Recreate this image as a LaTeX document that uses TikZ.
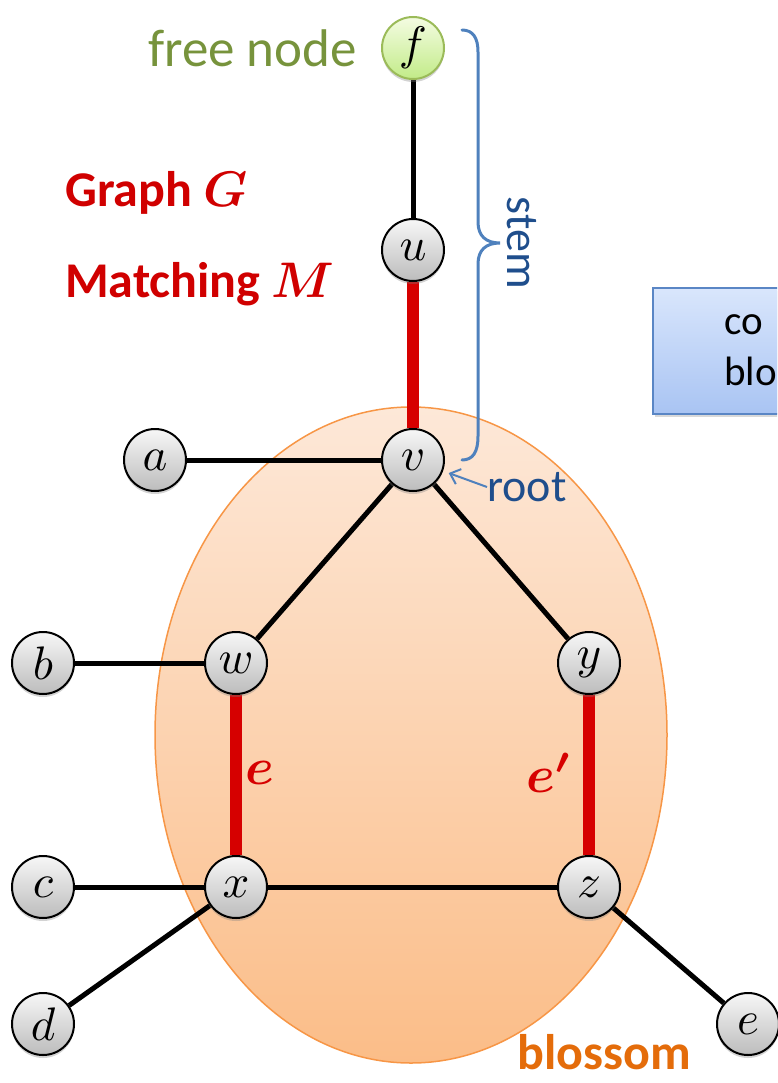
\documentclass[tikz,border=0pt]{standalone}
\usepackage{fontspec}
\setmainfont{Carlito}
\usepackage{graphicx}
\usepackage{bm}
\usetikzlibrary{shadows,arrows.meta}
\newcommand{\gletter}[2]{\scalebox{#1}{\normalsize$#2$}}
\definecolor{nodetop}{HTML}{F7F7F7}
\definecolor{nodebot}{HTML}{BCBCBC}
\definecolor{greentop}{HTML}{F4FCE2}
\definecolor{greenbot}{HTML}{C2EB88}
\definecolor{greenborder}{HTML}{9BBB59}
\definecolor{blosstop}{HTML}{FDE8D8}
\definecolor{blossbot}{HTML}{FBBD88}
\definecolor{blossborder}{HTML}{F79646}
\definecolor{boxtop}{HTML}{D9E6FC}
\definecolor{boxbot}{HTML}{A9C4F3}
\definecolor{boxborder}{HTML}{5A86C5}
\definecolor{matred}{HTML}{D60000}
\definecolor{titlered}{HTML}{D00000}
\definecolor{blossorange}{HTML}{E46C0A}
\definecolor{bluetext}{HTML}{1F4E8C}
\definecolor{braceblue}{HTML}{4F81BD}
\definecolor{freegreen}{HTML}{77933C}
\pgfdeclarelayer{bg}
\pgfdeclarelayer{mid}
\pgfsetlayers{bg,mid,main}
\tikzset{
  gnode/.style={circle, draw=black, line width=2pt, minimum size=62pt, inner sep=0pt,
    top color=nodetop, bottom color=nodebot,
    drop shadow={opacity=0.35, shadow xshift=0pt, shadow yshift=-3pt}},
  fnode/.style={gnode, draw=greenborder, top color=greentop, bottom color=greenbot},
  blk/.style={line width=5pt, black},
  mat/.style={line width=12pt, matred},
  elabel/.style={text=matred},
  title/.style={text=titlered, font=\fontsize{50}{60}\selectfont\bfseries, anchor=base west, inner sep=0pt},
  bluelabel/.style={text=bluetext, font=\fontsize{46}{50}\selectfont, inner sep=0pt},
  bracepath/.style={draw=braceblue, line width=3pt, line cap=round},
}
\begin{document}
\begin{tikzpicture}[x=1pt,y=-1pt]
\useasboundingbox (0,0) rectangle (777,1083);
% blossom
\begin{pgfonlayer}{bg}
\draw[blossborder, line width=1.5pt, top color=blosstop, bottom color=blossbot]
  (411,735) ellipse [x radius=256pt, y radius=328pt];
\end{pgfonlayer}
% nodes
\node[fnode] (f) at (413,48) {\gletter{4.7}{f}};
\node[gnode] (u) at (413,250) {\gletter{4.7}{u}};
\node[gnode] (v) at (413,460) {\gletter{4.7}{v}};
\node[gnode] (a) at (155,460) {\gletter{4.7}{a}};
\node[gnode] (w) at (236,663) {\gletter{4.7}{w}};
\node[gnode] (b) at (43,663) {\gletter{4.7}{b}};
\node[gnode] (y) at (589,663) {\gletter{4.7}{y}};
\node[gnode] (x) at (236,887) {\gletter{4.7}{x}};
\node[gnode] (c) at (43,887) {\gletter{4.7}{c}};
\node[gnode] (z) at (589,887) {\gletter{4.7}{z}};
\node[gnode] (d) at (43,1024) {\gletter{4.7}{d}};
\node[gnode] (e) at (748,1024) {\gletter{4.7}{e}};
% edges
\begin{pgfonlayer}{mid}
\draw[blk] (f) -- (u);
\draw[mat] (u) -- (v);
\draw[blk] (a) -- (v);
\draw[blk] (v) -- (w);
\draw[blk] (v) -- (y);
\draw[blk] (b) -- (w);
\draw[mat] (w) -- (x);
\draw[mat] (y) -- (z);
\draw[blk] (c) -- (x);
\draw[blk] (x) -- (z);
\draw[blk] (x) -- (d);
\draw[blk] (z) -- (e);
\end{pgfonlayer}
% edge labels
\node[elabel] (elab) at (260,773) {\gletter{5.2}{\bm{e}}};
\node[elabel] (eplab) at (549,773) {\gletter{5.2}{\bm{e'}}};
% titles
\node[title] (gtitle) at (65,207) {Graph \gletter{5}{\bm{G}}};
\node[title] (mtitle) at (65,297) {Matching \gletter{5}{\bm{M}}};
\node[text=freegreen, font=\fontsize{53}{60}\selectfont, anchor=base east, inner sep=0pt] (free) at (357,67) {free node};
\node[text=blossorange, font=\fontsize{50}{60}\selectfont\bfseries, anchor=base, inner sep=0pt] (blosslab) at (604,1069) {blossom};
% stem brace
\draw[bracepath] (462,30) .. controls (473,30) and (478,38) .. (478,52) -- (478,222)
  .. controls (478,236) and (486,243) .. (500,243)
  .. controls (486,243) and (478,250) .. (478,264) -- (478,436)
  .. controls (478,452) and (473,460) .. (462,460);
\node[bluelabel, rotate=-90] (stem) at (522,243) {stem};
\node[bluelabel, anchor=west] (root) at (487,487) {root};
\draw[braceblue, line width=2pt, -{Straight Barb[length=9pt,width=16pt]}, shorten >=6pt] (root.west) -- (v);
% contract box
\begin{scope}
\clip (0,0) rectangle (777,1083);
\node[rectangle, draw=boxborder, line width=1.5pt, top color=boxtop, bottom color=boxbot,
  minimum width=210pt, minimum height=126pt, anchor=north west,
  drop shadow={opacity=0.3, shadow xshift=2pt, shadow yshift=-3pt}] (box) at (652,287) {};
\node[anchor=west, align=left, inner sep=0pt, font=\fontsize{41}{51}\selectfont] (boxtext) at (724,350) {co\\blo};
\end{scope}
\end{tikzpicture}
\end{document}
